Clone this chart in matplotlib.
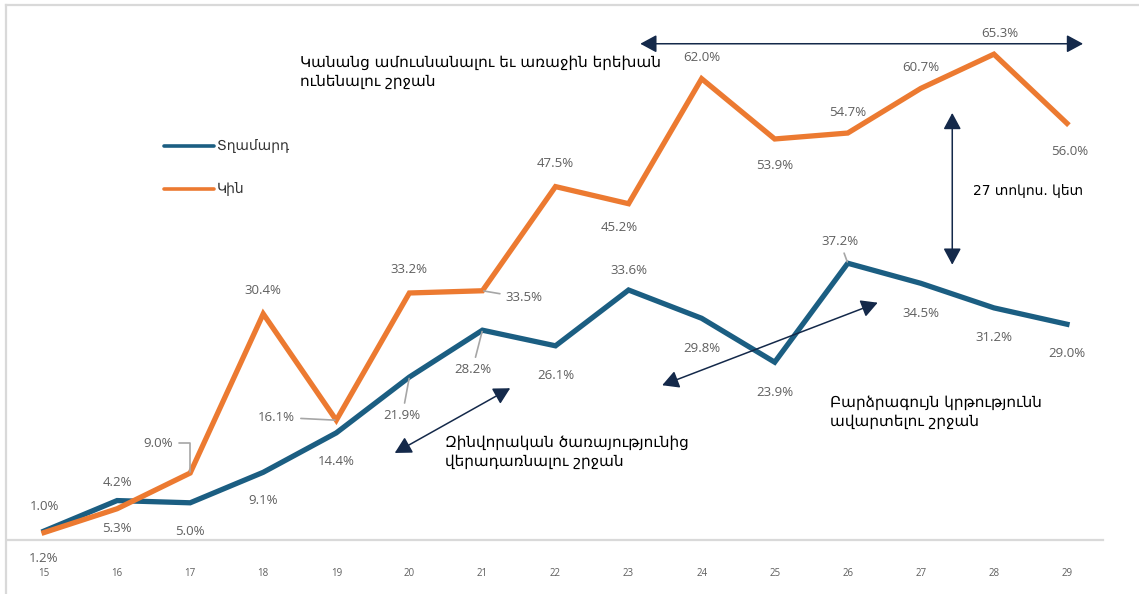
import matplotlib
matplotlib.use("Agg")
import matplotlib.pyplot as plt
from matplotlib.lines import Line2D

# données
ages = [15, 16, 17, 18, 19, 20, 21, 22, 23, 24, 25, 26, 27, 28, 29]
hommes = [1.2, 5.3, 5.0, 9.1, 14.4, 21.9, 28.2, 26.1, 33.6, 29.8, 23.9, 37.2, 34.5, 31.2, 29.0]
femmes = [1.0, 4.2, 9.0, 30.4, 16.1, 33.2, 33.5, 47.5, 45.2, 62.0, 53.9, 54.7, 60.7, 65.3, 56.0]
noms = ["Տղամարդ", "Կին"]

W, H = 1139, 594
BLEU = "#1b5e82"
ORANGE = "#ec7a31"
GRIS = "#5f5f5f"
NAVY = "#14294a"
ARM = ["DejaVu Sans"]
NUM = ["Open Sans", "DejaVu Sans"]

# décalages des étiquettes (pixels), et celles qui ont un trait de rappel
off_f = [(0, 26), (0, 26), (-37, 30), (0, 23), (-61, 3), (0, 23), (43, -7), (0, 23),
         (-9, -24), (0, 21), (0, -27), (0, 21), (0, 21), (6, 21), (3, -28)]
off_h = [(0, -27), (0, -28), (0, -29), (0, -28), (0, -29), (-7, -38), (-10, -39), (0, -30),
         (0, 20), (0, -30), (0, -30), (-8, 22), (0, -30), (0, -30), (0, -29)]
rappel_f = {17: "angle,angleA=0,angleB=90", 19: "arc3", 21: "arc3"}
rappel_h = {20: "arc3", 21: "arc3", 26: "arc3"}

fig = plt.figure(figsize=(W / 100, H / 100), dpi=100)
ax = fig.add_axes([8 / W, (H - 540) / H, (1103 - 8) / W, 540 / H])
ax.set_xlim(14.507, 29.493)
ax.set_ylim(0, 540 / 7.44)

ax.plot(ages, hommes, color=BLEU, lw=3.8, solid_joinstyle="miter", zorder=3)
ax.plot(ages, femmes, color=ORANGE, lw=3.8, solid_joinstyle="miter", zorder=3)

def etiquettes(vals, offs, rappels):
    for a, v, (dx, dy) in zip(ages, vals, offs):
        props = None
        if a in rappels:
            props = dict(arrowstyle="-", color="#a6a6a6", lw=1.2, shrinkA=2, shrinkB=1,
                         connectionstyle=rappels[a])
        ha = "center"
        if a in rappels and dx < -20:
            ha = "right"
            dx += 20
        elif a in rappels and dx > 20:
            ha = "left"
            dx -= 20
        ax.annotate(f"{v:.1f}%", (a, v), xytext=(dx, dy), textcoords="offset pixels",
                    ha=ha, va="center", fontsize=9.5, color=GRIS, family=NUM,
                    arrowprops=props, zorder=4)

etiquettes(femmes, off_f, rappel_f)
etiquettes(hommes, off_h, rappel_h)

for s in ["top", "right", "left"]:
    ax.spines[s].set_visible(False)
ax.spines["bottom"].set_color("#d9d9d9")
ax.spines["bottom"].set_linewidth(1.6)
ax.set_yticks([])
ax.set_xticks(ages)
ax.set_xticklabels([str(a) for a in ages], fontsize=7, color=GRIS, family=NUM)
ax.tick_params(axis="x", length=0, pad=20)

# cadre gris à gauche et en haut
fig.add_artist(Line2D([6 / W, 6 / W], [0, 1 - 5 / H], color="#d9d9d9", lw=1.6))
fig.add_artist(Line2D([6 / W, 1], [1 - 5 / H, 1 - 5 / H], color="#d9d9d9", lw=1.6))

# légende
for y, c, n in [(146, BLEU, noms[0]), (189, ORANGE, noms[1])]:
    fig.add_artist(Line2D([164 / W, 214 / W], [1 - y / H, 1 - y / H], color=c, lw=2.6,
                          solid_capstyle="round"))
    fig.text(217 / W, 1 - y / H, n, fontsize=10, family=ARM, color="#333333",
             va="center", ha="left")

# flèches doubles
def fleche(x0, y0, x1, y1):
    ax.annotate("", xy=(x1, y1), xytext=(x0, y0),
                arrowprops=dict(arrowstyle="<|-|>,head_length=0.5,head_width=0.27",
                                mutation_scale=20, color=NAVY, lw=1.1,
                                shrinkA=0, shrinkB=0), zorder=5)

fleche(23.16, 66.7, 29.22, 66.7)
fleche(27.43, 37.0, 27.43, 57.4)
fleche(19.80, 11.7, 21.38, 20.4)
fleche(23.46, 20.8, 26.41, 31.9)

textes = [
    (300, 72, "Կանանց ամուսնանալու եւ առաջին երեխան\nունենալու շրջան"),
    (445, 452, "Զինվորական ծառայությունից\nվերադառնալու շրջան"),
    (830, 412, "Բարձրագույն կրթությունն\nավարտելու շրջան"),
]
for x, y, t in textes:
    fig.text(x / W, 1 - y / H, t, fontsize=11, family=ARM, color="black",
             ha="left", va="center", linespacing=1.25)
fig.text(973 / W, 1 - 191 / H, "27 տոկոս. կետ", fontsize=10, family=ARM,
         color="black", ha="left", va="center")

fig.savefig("out.png", dpi=100, facecolor="white")
